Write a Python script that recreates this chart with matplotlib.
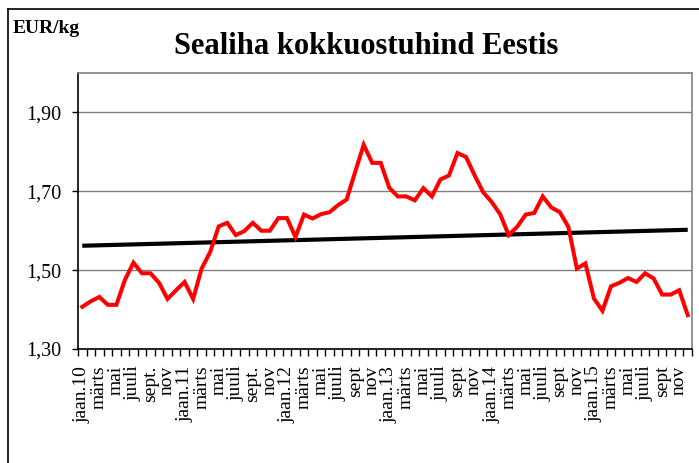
import numpy as np
import matplotlib
matplotlib.use("Agg")
import matplotlib.pyplot as plt
from matplotlib.lines import Line2D

# ---- data: monthly pork purchase price, EUR/kg (jaan.10 .. dets.15) ----
price = [
    1.407, 1.421, 1.432, 1.412, 1.412, 1.475, 1.519, 1.492, 1.492, 1.468, 1.427, 1.449,   # 2010
    1.470, 1.427, 1.504, 1.546, 1.611, 1.620, 1.589, 1.599, 1.620, 1.600, 1.600, 1.632,   # 2011
    1.632, 1.584, 1.641, 1.631, 1.642, 1.647, 1.665, 1.679, 1.749, 1.818, 1.772, 1.772,   # 2012
    1.709, 1.687, 1.687, 1.677, 1.708, 1.687, 1.730, 1.740, 1.797, 1.787, 1.741, 1.698,   # 2013
    1.673, 1.642, 1.589, 1.610, 1.641, 1.645, 1.687, 1.659, 1.647, 1.610, 1.504, 1.517,   # 2014
    1.428, 1.397, 1.459, 1.468, 1.480, 1.470, 1.492, 1.479, 1.438, 1.438, 1.449, 1.386,   # 2015
]
month_labels = [
    "jaan.10", "märts", "mai", "juuli", "sept.", "nov",
    "jaan.11", "märts", "mai", "juuli", "sept.", "nov",
    "jaan.12", "märts", "mai", "juuli", "sept", "nov",
    "jaan.13", "märts", "mai", "juuli", "sept", "nov",
    "jaan.14", "märts", "mai", "juuli", "sept", "nov",
    "jaan.15", "märts", "mai", "juuli", "sept", "nov",
]
y_ticks = [1.30, 1.50, 1.70, 1.90]

TITLE = "Sealiha kokkuostuhind Eestis"
UNIT = "EUR/kg"

plt.rcParams["font.family"] = ["Liberation Serif", "DejaVu Serif"]

W, H = 699, 463
fig = plt.figure(figsize=(W / 100, H / 100), dpi=100)
ax = fig.add_axes([78 / W, 1 - 349 / H, (692 - 78) / W, (349 - 73) / H])

x = np.arange(len(price))
y = np.array(price)

# Excel-style linear trendline
k, b = np.polyfit(x, y, 1)
ax.plot(x, k * x + b, color="black", lw=3.0, solid_capstyle="butt", zorder=3)
ax.plot(x, y, color="#ff0000", lw=2.9, solid_joinstyle="miter", zorder=4)

ax.set_xlim(-0.5, len(price) - 0.5)
ax.set_ylim(1.30, 2.00)

ax.set_yticks(y_ticks)
ax.set_yticklabels([f"{v:.2f}".replace(".", ",") for v in y_ticks], fontsize=14.5)
ax.yaxis.grid(True, color="#808080", lw=1.0)
ax.set_axisbelow(True)
ax.tick_params(axis="y", direction="out", length=4, width=1, pad=8, color="black")

ax.set_xticks(x[::2])
ax.set_xticklabels(month_labels, rotation=90, fontsize=14, va="top", ha="center")
ax.set_xticks(np.arange(-0.5, len(price)), minor=True)
ax.tick_params(axis="x", which="major", length=0, pad=12)
ax.tick_params(axis="x", which="minor", direction="out", length=5, width=1, color="black")

for s in ("left", "bottom"):
    ax.spines[s].set_color("black")
    ax.spines[s].set_linewidth(1.2)
for s in ("top", "right"):
    ax.spines[s].set_color("#808080")
    ax.spines[s].set_linewidth(1.2)

fig.text(366 / W, 1 - 54 / H, TITLE, ha="center", va="baseline",
         fontsize=22, fontweight="bold")
fig.text(13 / W, 1 - 33 / H, UNIT, ha="left", va="baseline",
         fontsize=14, fontweight="bold")

# outer chart frame (left and top edges are visible)
fig.add_artist(Line2D([8 / W, 8 / W], [0, 1 - 9 / H], transform=fig.transFigure,
                      color="black", lw=1.2))
fig.add_artist(Line2D([8 / W, 1], [1 - 9 / H, 1 - 9 / H], transform=fig.transFigure,
                      color="black", lw=1.2))

fig.savefig("out.png", dpi=100)
